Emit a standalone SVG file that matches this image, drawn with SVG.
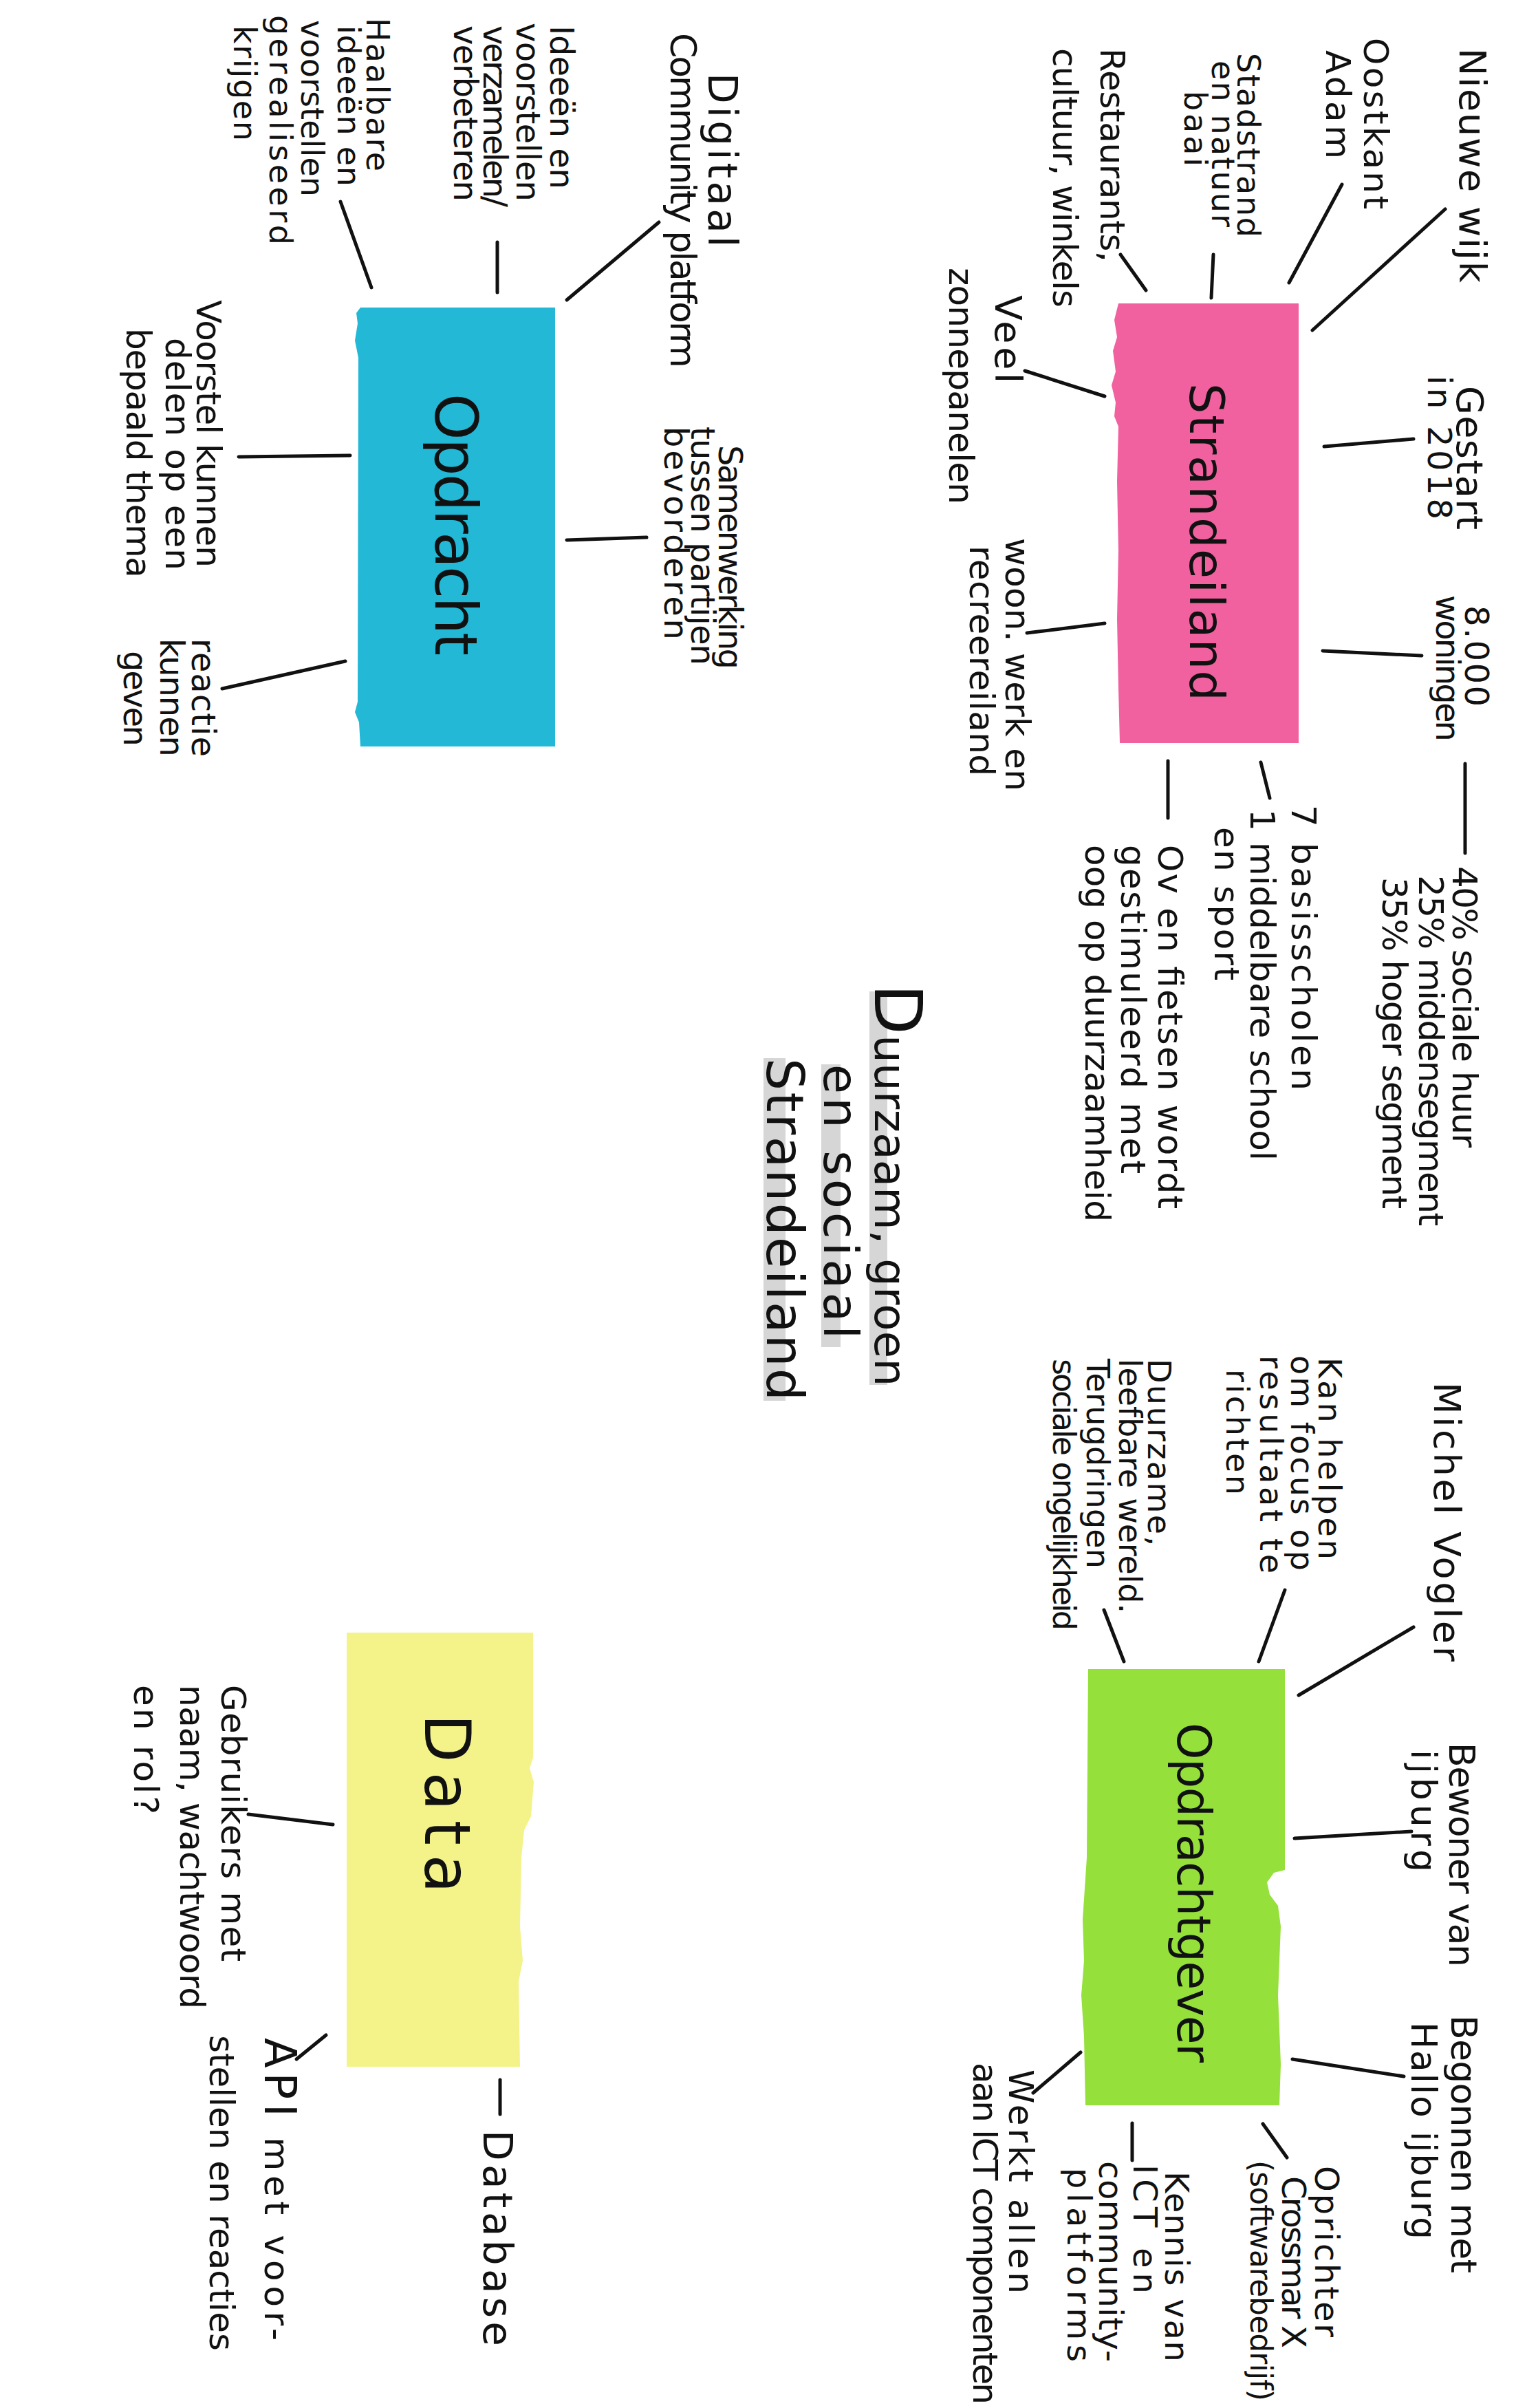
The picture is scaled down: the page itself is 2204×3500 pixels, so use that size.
<svg xmlns="http://www.w3.org/2000/svg" width="2204" height="3500" viewBox="0 0 2204 3500">
<style>
text{font-family:"DejaVu Sans","Liberation Sans",sans-serif;fill:#111;font-size:50px;}
.f44 text{font-size:44px}.f46 text{font-size:46px}.f48 text{font-size:48px}.f52 text{font-size:52px}.f54 text{font-size:54px}
.con line{stroke:#111;stroke-width:5;stroke-linecap:round}
.band{fill:#c8c8c8;opacity:0.75}
</style>
<rect width="2204" height="3500" fill="#ffffff"/>

<!-- Strandeiland node -->
<g id="node-strandeiland">
<path d="M1628,441 L1888,441 L1888,1080 L1628,1080 L1626,1000 L1624,900 L1626,800 L1624,700 L1626,620 L1620,605 L1622,585 L1616,560 L1622,540 L1618,510 L1624,490 L1620,465 L1626,441 Z" fill="#f1619f"/>
<text style="font-size:70px" transform="translate(1730,557) rotate(90)" textLength="462" lengthAdjust="spacing">Strandeiland</text>
</g>
<g id="lbl-nieuwe-wijk" class="f54"><text transform="translate(2122,70) rotate(90)" textLength="341">Nieuwe wijk</text></g>
<g id="lbl-oostkant"><text transform="translate(1983,55) rotate(90)" textLength="249">Oostkant</text><text transform="translate(1928,73) rotate(90)" textLength="158">Adam</text></g>
<g id="lbl-stadstrand" class="f46"><text transform="translate(1799,77) rotate(90)" textLength="268">Stadstrand</text><text transform="translate(1762,88) rotate(90)" textLength="242">en natuur</text><text transform="translate(1722,132) rotate(90)" textLength="110">baai</text></g>
<g id="lbl-restaurants"><text transform="translate(1600,70) rotate(90)" textLength="311">Restaurants,</text><text transform="translate(1531,70) rotate(90)" textLength="377">cultuur, winkels</text></g>
<g id="lbl-veel"><text style="font-size:54px" transform="translate(1447,429) rotate(90)" textLength="128">Veel</text><text transform="translate(1380,389) rotate(90)" textLength="344">zonnepanelen</text></g>
<g id="lbl-gestart"><text style="font-size:54px" transform="translate(2118,561) rotate(90)" textLength="209">Gestart</text><text style="font-size:48px" transform="translate(2076,546) rotate(90)" textLength="209">in 2018</text></g>
<g id="lbl-woningen" class="f48"><text transform="translate(2130,880) rotate(90)" textLength="147">8.000</text><text transform="translate(2088,865) rotate(90)" textLength="213">woningen</text></g>
<g id="lbl-woon"><text transform="translate(1462,782) rotate(90)" textLength="368">woon. werk en</text><text transform="translate(1410,793) rotate(90)" textLength="335">recreereiland</text></g>
<g id="lbl-huur"><text transform="translate(2112,1259) rotate(90)" textLength="409">40% sociale huur</text><text transform="translate(2063,1272) rotate(90)" textLength="510">25% middensegment</text><text transform="translate(2010,1275) rotate(90)" textLength="482">35% hoger segment</text></g>
<g id="lbl-scholen"><text transform="translate(1878,1170) rotate(90)" textLength="415">7 basisscholen</text><text transform="translate(1818,1176) rotate(90)" textLength="511">1 middelbare school</text><text transform="translate(1766,1202) rotate(90)" textLength="223">en sport</text></g>
<g id="lbl-ov"><text transform="translate(1684,1228) rotate(90)" textLength="529">Ov en fietsen wordt</text><text transform="translate(1630,1228) rotate(90)" textLength="478">gestimuleerd met</text><text transform="translate(1578,1228) rotate(90)" textLength="548">oog op duurzaamheid</text></g>

<!-- Title -->
<g id="node-title">
<rect class="band" x="1264" y="1441" width="26" height="572"/>
<rect class="band" x="1194" y="1547" width="28" height="411"/>
<rect class="band" x="1110" y="1538" width="32" height="498"/>
<text style="font-size:64px" transform="translate(1272,1430) rotate(90)" textLength="585" lengthAdjust="spacing"><tspan style="font-size:96px">D</tspan>uurzaam, groen</text>
<text style="font-size:70px" transform="translate(1198,1547) rotate(90)" textLength="399">en sociaal</text>
<text style="font-size:74px" transform="translate(1115,1538) rotate(90)" textLength="498">Strandeiland</text>
</g>

<!-- Opdrachtgever node -->
<g id="node-opdrachtgever">
<path d="M1582,2426 L1868,2426 L1868,2718 L1852,2722 L1842,2736 L1846,2754 L1858,2770 L1862,2800 L1858,2900 L1862,3000 L1860,3060 L1578,3060 L1576,2960 L1572,2900 L1576,2850 L1574,2790 L1580,2700 Z" fill="#95e03a"/>
<text style="font-size:68px" transform="translate(1712,2504) rotate(90)" textLength="494">Opdrachtgever</text>
</g>
<g id="lbl-michel" class="f54"><text transform="translate(2085,2009) rotate(90)" textLength="406">Michel Vogler</text></g>
<g id="lbl-kan" class="f46"><text transform="translate(1917,1973) rotate(90)" textLength="294">Kan helpen</text><text transform="translate(1877,1970) rotate(90)" textLength="313">om focus op</text><text transform="translate(1832,1970) rotate(90)" textLength="317">resultaat te</text><text transform="translate(1783,1990) rotate(90)" textLength="183">richten</text></g>
<g id="lbl-duurzame" class="f46"><text transform="translate(1669,1975) rotate(90)" textLength="272">Duurzame,</text><text transform="translate(1627,1975) rotate(90)" textLength="370">leefbare wereld.</text><text transform="translate(1580,1975) rotate(90)" textLength="305">Terugdringen</text><text transform="translate(1531,1975) rotate(90)" textLength="395">sociale ongelijkheid</text></g>
<g id="lbl-bewoner" class="f52"><text transform="translate(2107,2533) rotate(90)" textLength="326">Bewoner van</text><text transform="translate(2052,2543) rotate(90)" textLength="178">ijburg</text></g>
<g id="lbl-begonnen" class="f52"><text transform="translate(2110,2929) rotate(90)" textLength="375">Begonnen met</text><text transform="translate(2052,2939) rotate(90)" textLength="316">Hallo ijburg</text></g>
<g id="lbl-oprichter" class="f48"><text transform="translate(1912,3148) rotate(90)" textLength="249">Oprichter</text><text transform="translate(1864,3163) rotate(90)" textLength="250">Crossmar X</text><text style="font-size:44px" transform="translate(1818,3140) rotate(90)" textLength="350">(softwarebedrijf)</text></g>
<g id="lbl-kennis" class="f48"><text transform="translate(1694,3156) rotate(90)" textLength="277">Kennis van</text><text transform="translate(1648,3146) rotate(90)" textLength="188">ICT en</text><text transform="translate(1598,3141) rotate(90)" textLength="292">community-</text><text transform="translate(1552,3151) rotate(90)" textLength="282">platforms</text></g>
<g id="lbl-werkt"><text transform="translate(1467,3008) rotate(90)" textLength="326">Werkt allen</text><text transform="translate(1415,2998) rotate(90)" textLength="497">aan ICT componenten</text></g>

<!-- Opdracht node -->
<g id="node-opdracht">
<path d="M524,447 L807,447 L807,1085 L524,1085 L522,1050 L516,1035 L520,1020 L521,520 L516,495 L520,470 L518,455 Z" fill="#22b8d6"/>
<text style="font-size:86px" transform="translate(633,572) rotate(90)" textLength="381">Opdracht</text>
</g>
<g id="lbl-digitaal"><text style="font-size:58px" transform="translate(1030,106) rotate(90)" textLength="253">Digitaal</text><text style="font-size:52px" transform="translate(975,48) rotate(90)" textLength="487">Community platform</text></g>
<g id="lbl-ideeen" class="f48"><text transform="translate(800,37) rotate(90)" textLength="238">Ideeën en</text><text transform="translate(751,33) rotate(90)" textLength="260">voorstellen</text><text transform="translate(703,37) rotate(90)" textLength="264">verzamelen/</text><text transform="translate(660,37) rotate(90)" textLength="256">verbeteren</text></g>
<g id="lbl-haalbare" class="f46"><text transform="translate(533,26) rotate(90)" textLength="223">Haalbare</text><text transform="translate(491,37) rotate(90)" textLength="234">ideeën en</text><text transform="translate(438,29) rotate(90)" textLength="257">voorstellen</text><text transform="translate(392,22) rotate(90)" textLength="334">gerealiseerd</text><text transform="translate(340,37) rotate(90)" textLength="168">krijgen</text></g>
<g id="lbl-samenwerking" class="f48"><text transform="translate(1045,647) rotate(90)" textLength="326">Samenwerking</text><text transform="translate(1005,620) rotate(90)" textLength="347">tussen partijen</text><text transform="translate(966,620) rotate(90)" textLength="310">bevorderen</text></g>
<g id="lbl-voorstel"><text transform="translate(286,436) rotate(90)" textLength="389">Voorstel kunnen</text><text transform="translate(241,491) rotate(90)" textLength="338">delen op een</text><text transform="translate(184,477) rotate(90)" textLength="363">bepaald thema</text></g>
<g id="lbl-reactie" class="f48"><text transform="translate(279,928) rotate(90)" textLength="172">reactie</text><text transform="translate(233,928) rotate(90)" textLength="172">kunnen</text><text transform="translate(180,946) rotate(90)" textLength="139">geven</text></g>

<!-- Data node -->
<g id="node-data">
<path d="M504,2373 L775,2373 L775,2555 L770,2570 L776,2590 L772,2640 L762,2660 L758,2700 L756,2800 L760,2850 L754,2880 L756,3004 L504,3004 Z" fill="#f3f38a"/>
<text style="font-size:92px" transform="translate(618,2491) rotate(90)" textLength="261">Data</text>
</g>
<g id="lbl-gebruikers"><text transform="translate(322,2449) rotate(90)" textLength="402">Gebruikers met</text><text transform="translate(262,2449) rotate(90)" textLength="471">naam, wachtwoord</text><text transform="translate(195,2449) rotate(90)" textLength="188">en rol?</text></g>
<g id="lbl-api"><text transform="translate(385,2962) rotate(90)" textLength="440"><tspan style="font-size:64px">API</tspan> met voor-</text><text transform="translate(305,2958) rotate(90)" textLength="459">stellen en reacties</text></g>
<g id="lbl-database"><text style="font-size:58px" transform="translate(703,3096) rotate(90)" textLength="314">Database</text></g>

<!-- Connectors -->
<g id="connectors" class="con">
<line x1="2101" y1="304" x2="1908" y2="480"/>
<line x1="1951" y1="268" x2="1874" y2="411"/>
<line x1="1764" y1="370" x2="1761" y2="433"/>
<line x1="1629" y1="370" x2="1666" y2="422"/>
<line x1="1490" y1="539" x2="1606" y2="576"/>
<line x1="1925" y1="649" x2="2055" y2="638"/>
<line x1="1923" y1="946" x2="2067" y2="953"/>
<line x1="1493" y1="920" x2="1606" y2="906"/>
<line x1="2130" y1="1110" x2="2130" y2="1240"/>
<line x1="1833" y1="1108" x2="1846" y2="1160"/>
<line x1="1698" y1="1106" x2="1698" y2="1189"/>
<line x1="2055" y1="2365" x2="1888" y2="2464"/>
<line x1="1868" y1="2311" x2="1830" y2="2415"/>
<line x1="1605" y1="2340" x2="1634" y2="2415"/>
<line x1="1882" y1="2672" x2="2052" y2="2662"/>
<line x1="1879" y1="2993" x2="2041" y2="3018"/>
<line x1="1871" y1="3136" x2="1836" y2="3087"/>
<line x1="1646" y1="3086" x2="1646" y2="3140"/>
<line x1="1502" y1="3042" x2="1571" y2="2983"/>
<line x1="958" y1="323" x2="824" y2="436"/>
<line x1="723" y1="352" x2="723" y2="425"/>
<line x1="495" y1="293" x2="540" y2="418"/>
<line x1="824" y1="785" x2="940" y2="781"/>
<line x1="347" y1="664" x2="509" y2="662"/>
<line x1="323" y1="1001" x2="502" y2="961"/>
<line x1="361" y1="2637" x2="484" y2="2652"/>
<line x1="431" y1="2993" x2="474" y2="2958"/>
<line x1="727" y1="3023" x2="727" y2="3073"/>
</g>
</svg>
